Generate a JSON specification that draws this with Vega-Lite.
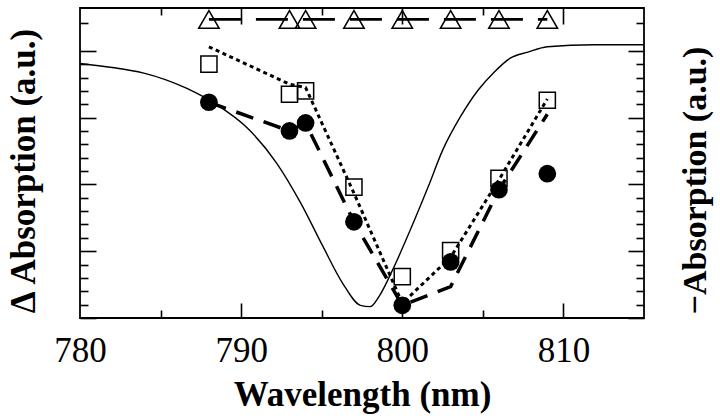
{
  "$schema": "https://vega.github.io/schema/vega-lite/v6.json",
  "width": 564,
  "height": 310,
  "autosize": {"type": "none"},
  "padding": {"left": 80, "top": 8, "right": 76, "bottom": 101},
  "background": "white",
  "config": {
    "view": {"stroke": "black", "strokeWidth": 1.8},
    "font": "Liberation Serif",
    "axis": {"grid": false, "domain": false, "tickColor": "black", "tickWidth": 1.6, "labelColor": "black", "titleColor": "black", "labelFont": "Liberation Serif", "titleFont": "Liberation Serif"}
  },
  "datasets": {
    "curve": [
      {"wl": 780.0, "a": 3.81}, {"wl": 782.0, "a": 3.75}, {"wl": 783.9, "a": 3.67}, {"wl": 786.6, "a": 3.44},
      {"wl": 788.5, "a": 3.19}, {"wl": 790.4, "a": 2.84}, {"wl": 792.2, "a": 2.32}, {"wl": 793.7, "a": 1.72},
      {"wl": 795.1, "a": 1.06}, {"wl": 796.3, "a": 0.52}, {"wl": 797.4, "a": 0.19}, {"wl": 798.0, "a": 0.17},
      {"wl": 798.6, "a": 0.34}, {"wl": 799.4, "a": 0.72}, {"wl": 800.5, "a": 1.32}, {"wl": 801.6, "a": 1.96},
      {"wl": 802.5, "a": 2.51}, {"wl": 803.6, "a": 3.01}, {"wl": 804.7, "a": 3.41}, {"wl": 805.7, "a": 3.68},
      {"wl": 806.7, "a": 3.89}, {"wl": 807.8, "a": 3.98}, {"wl": 809.0, "a": 4.06}, {"wl": 811.9, "a": 4.09},
      {"wl": 815.0, "a": 4.09}
    ],
    "pts": [
      {"wl": 788, "circ": 3.23, "sq": 3.80},
      {"wl": 793, "circ": 2.80, "sq": 3.35},
      {"wl": 794, "circ": 2.92, "sq": 3.40},
      {"wl": 797, "circ": 1.44, "sq": 1.96},
      {"wl": 800, "circ": 0.19, "sq": 0.62},
      {"wl": 803, "circ": 0.84, "sq": 1.01},
      {"wl": 806, "circ": 1.92, "sq": 2.09},
      {"wl": 809, "circ": 2.16, "sq": 3.26}
    ],
    "dashfit": [
      {"wl": 788, "v": 3.23}, {"wl": 793, "v": 2.80}, {"wl": 794, "v": 2.92}, {"wl": 797, "v": 1.44},
      {"wl": 800, "v": 0.19}, {"wl": 803, "v": 0.47}, {"wl": 806, "v": 1.92}, {"wl": 809, "v": 3.05}
    ],
    "dotfit": [
      {"wl": 788, "v": 4.06}, {"wl": 793, "v": 3.50}, {"wl": 794, "v": 3.45}, {"wl": 797, "v": 1.87},
      {"wl": 800, "v": 0.22}, {"wl": 803, "v": 0.91}, {"wl": 806, "v": 2.07}, {"wl": 809, "v": 3.28}
    ]
  },
  "resolve": {"axis": {"x": "independent", "y": "independent"}},
  "layer": [
    {
      "data": {"name": "curve"},
      "mark": {"type": "line", "color": "black", "strokeWidth": 1.4, "interpolate": "monotone"},
      "encoding": {
        "x": {"field": "wl", "type": "quantitative", "scale": {"domain": [780, 815], "nice": false, "zero": false},
          "axis": {"orient": "bottom", "values": [780, 790, 800, 810], "ticks": false, "tickSize": 0, "labels": true, "labelFontSize": 35, "labelPadding": 43, "labelBaseline": "alphabetic", "labelFlush": false, "labelOverlap": false,
            "title": "Wavelength (nm)", "titleFontSize": 35, "titleFontWeight": "bold", "titleX": 282, "titleY": 87, "titleBaseline": "alphabetic", "titleAlign": "center"}},
        "y": {"field": "a", "type": "quantitative", "scale": {"domain": [0, 4.641], "nice": false, "zero": false},
          "axis": {"orient": "left", "values": [0, 1, 2, 3, 4], "tickSize": -16, "labels": false,
            "title": "Δ Absorption (a.u.)", "titleFontSize": 35, "titleFontWeight": "bold", "titleX": -46, "titleY": 162.5, "titleAngle": 270, "titleBaseline": "alphabetic", "titleAlign": "center"}}
      }
    },
    {
      "data": {"name": "dotfit"},
      "mark": {"type": "line", "color": "black", "strokeWidth": 3, "strokeDash": [4, 3.5]},
      "encoding": {
        "x": {"field": "wl", "type": "quantitative", "scale": {"domain": [780, 815], "nice": false, "zero": false},
          "axis": {"orient": "bottom", "values": [790, 800, 810], "tickSize": -15, "labels": false, "title": null}},
        "y": {"field": "v", "type": "quantitative", "scale": {"domain": [0, 4.641], "nice": false, "zero": false},
          "axis": {"orient": "left", "values": [0.2, 0.4, 0.6, 0.8, 1.2, 1.4, 1.6, 1.8, 2.2, 2.4, 2.6, 2.8, 3.2, 3.4, 3.6, 3.8, 4.42], "tickSize": -8, "labels": false, "title": null}}
      }
    },
    {
      "data": {"name": "dashfit"},
      "mark": {"type": "line", "color": "black", "strokeWidth": 3.5, "strokeDash": [18, 11]},
      "encoding": {
        "x": {"field": "wl", "type": "quantitative", "scale": {"domain": [780, 815], "nice": false, "zero": false},
          "axis": {"orient": "top", "values": [790, 800, 810], "tickSize": -16, "labels": false, "title": null}},
        "y": {"field": "v", "type": "quantitative", "scale": {"domain": [0, 4.641], "nice": false, "zero": false},
          "axis": {"orient": "right", "values": [0, 1, 2, 3, 4], "tickSize": -16, "labels": false,
            "title": "−Absorption (a.u.)", "titleFontSize": 34, "titleFontWeight": "bold", "titleX": 61, "titleY": 172, "titleAngle": 270, "titleBaseline": "alphabetic", "titleAlign": "center"}}
      }
    },
    {
      "data": {"name": "pts"},
      "mark": {"type": "point", "shape": "square", "size": 260, "filled": false, "stroke": "black", "strokeWidth": 1.5, "opacity": 1},
      "encoding": {
        "x": {"field": "wl", "type": "quantitative", "scale": {"domain": [780, 815], "nice": false, "zero": false},
          "axis": {"orient": "top", "values": [785, 795, 805], "tickSize": -7, "labels": false, "title": null}},
        "y": {"field": "sq", "type": "quantitative", "scale": {"domain": [0, 4.641], "nice": false, "zero": false},
          "axis": {"orient": "right", "values": [0.2, 0.4, 0.6, 0.8, 1.2, 1.4, 1.6, 1.8, 2.2, 2.4, 2.6, 2.8, 3.2, 3.4, 3.6, 3.8, 4.42], "tickSize": -8, "labels": false, "title": null}}
      }
    },
    {
      "data": {"name": "pts"},
      "mark": {"type": "line", "color": "black", "strokeWidth": 2.6, "strokeDash": [32, 15]},
      "encoding": {
        "x": {"field": "wl", "type": "quantitative", "scale": {"domain": [780, 815], "nice": false, "zero": false},
          "axis": {"orient": "bottom", "values": [785, 795, 805], "tickSize": -8, "labels": false, "title": null}},
        "y": {"datum": 4.47, "type": "quantitative", "scale": {"domain": [0, 4.641], "nice": false, "zero": false}, "axis": null}
      }
    },
    {
      "data": {"name": "pts"},
      "mark": {"type": "point", "shape": "triangle-up", "size": 420, "filled": false, "stroke": "black", "strokeWidth": 1.5, "opacity": 1},
      "encoding": {
        "x": {"field": "wl", "type": "quantitative", "scale": {"domain": [780, 815], "nice": false, "zero": false}, "axis": null},
        "y": {"datum": 4.47, "type": "quantitative", "scale": {"domain": [0, 4.641], "nice": false, "zero": false}, "axis": null}
      }
    },
    {
      "data": {"name": "pts"},
      "mark": {"type": "point", "shape": "circle", "size": 314, "filled": true, "color": "black", "opacity": 1},
      "encoding": {
        "x": {"field": "wl", "type": "quantitative", "scale": {"domain": [780, 815], "nice": false, "zero": false}, "axis": null},
        "y": {"field": "circ", "type": "quantitative", "scale": {"domain": [0, 4.641], "nice": false, "zero": false}, "axis": null}
      }
    },
    {
      "mark": {"type": "rule", "color": "black", "strokeWidth": 1.8},
      "encoding": {
        "y": {"datum": 4.222, "type": "quantitative", "scale": {"domain": [0, 4.641], "nice": false, "zero": false}, "axis": null}
      }
    }
  ]
}
